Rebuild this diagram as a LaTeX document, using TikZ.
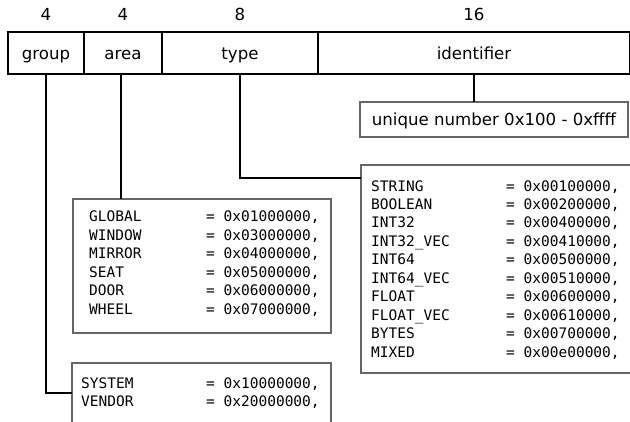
\documentclass[tikz,border=0pt]{standalone}
\usepackage{fontspec}
\setmainfont{DejaVu Sans}
\setmonofont{DejaVu Sans Mono}
\usetikzlibrary{calc, positioning}

\begin{document}
\begin{tikzpicture}[x=1pt, y=-1pt,
    field/.style={draw, line width=1.8pt, outer sep=0pt, inner sep=0pt,
      minimum height=42pt, text height=12.6pt, text depth=0pt,
      font=\fontsize{16.6}{20}\selectfont},
    bits/.style={inner sep=0pt, font=\fontsize{16.6}{20}\selectfont},
    listbox/.style={draw=black!60, line width=1.2pt, outer sep=0pt, inner sep=0pt},
    listtext/.style={anchor=base west, inner sep=0pt,
      font=\ttfamily\fontsize{14.5}{18.5}\selectfont},
    link/.style={line width=1.8pt}
  ]
  \useasboundingbox (0,0) rectangle (630,421);
  \clip (0,0) rectangle (630,421);

  % the id word, split into its fields
  \node[field, minimum width=76pt] (group) at (46,53) {group};
  \node[field, minimum width=78pt, anchor=west] (area) at (group.east) {area};
  \node[field, minimum width=156pt, anchor=west] (type) at (area.east) {type};
  \node[field, minimum width=312pt, anchor=west] (identifier) at (type.east) {identifier};

  % field widths in bits
  \node[bits, above=11pt of group] (groupbits) {4};
  \node[bits, above=11pt of area] (areabits) {4};
  \node[bits, above=11pt of type] (typebits) {8};
  \node[bits, above=11pt of identifier] (identifierbits) {16};

  % value lists
  \node[field, line width=1.2pt, draw=black!60, minimum width=268pt, minimum height=35pt,
    anchor=north west] (unique) at (360,102) {unique number 0x100 - 0xffff};
  \node[listbox, minimum width=258pt, minimum height=134pt, anchor=north west] (areabox) at (73,199) {};
  \node[listbox, minimum width=280pt, minimum height=208pt, anchor=north west] (typebox) at (361,165) {};
  \node[listbox, minimum width=259pt, minimum height=60pt, anchor=north west] (groupbox) at (72,363) {};

  \foreach \name/\val [count=\i] in {GLOBAL/01000000, WINDOW/03000000, MIRROR/04000000,
      SEAT/05000000, DOOR/06000000, WHEEL/07000000} {
    \node[listtext] (areaname\i) at ($(areabox.north west)+(16,22.7+18.5*\i-18.5)$) {\name};
    \node[listtext] (areaval\i) at ($(areabox.north west)+(133,22.7+18.5*\i-18.5)$) {= 0x\val,};
  }
  \foreach \name/\val [count=\i] in {STRING/00100000, BOOLEAN/00200000, INT32/00400000,
      INT32\_VEC/00410000, INT64/00500000, INT64\_VEC/00510000, FLOAT/00600000,
      FLOAT\_VEC/00610000, BYTES/00700000, MIXED/00e00000} {
    \node[listtext] (typename\i) at ($(typebox.north west)+(10,26+18.45*\i-18.45)$) {\name};
    \node[listtext] (typeval\i) at ($(typebox.north west)+(145,26+18.45*\i-18.45)$) {= 0x\val,};
  }
  \foreach \name/\val [count=\i] in {SYSTEM/10000000, VENDOR/20000000} {
    \node[listtext] (groupname\i) at ($(groupbox.north west)+(9,25+18.5*\i-18.5)$) {\name};
    \node[listtext] (groupval\i) at ($(groupbox.north west)+(134,25+18.5*\i-18.5)$) {= 0x\val,};
  }

  % connectors from each field down to its list
  \coordinate (typein) at ($(typebox.north west)+(0,13)$);
  \draw[link] (group.south) |- (groupbox.west);
  \draw[link] ([xshift=-2pt]area.south) -- ([xshift=-2pt]area.south |- areabox.north);
  \draw[link] (type.south) |- (typein);
  \draw[link] (identifier.south) -- (identifier.south |- unique.north);
\end{tikzpicture}
\end{document}
